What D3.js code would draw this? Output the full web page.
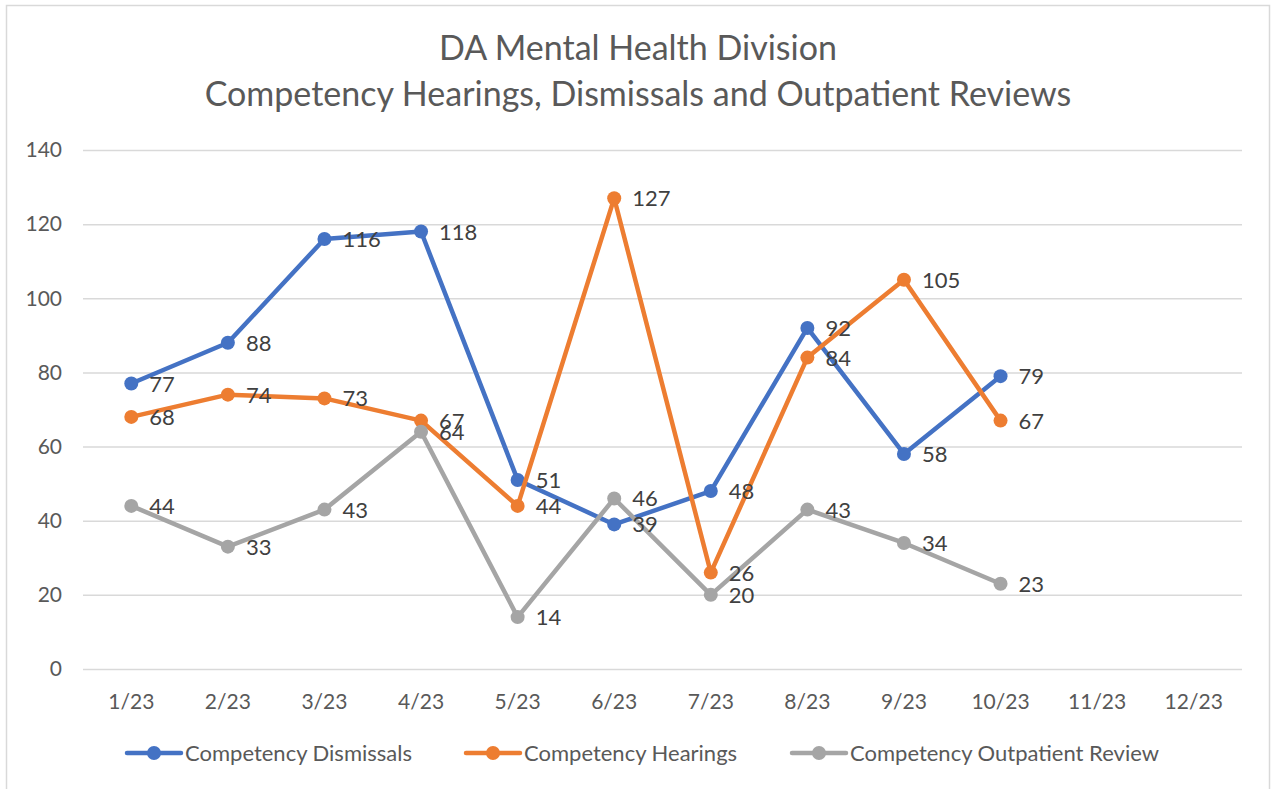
<!DOCTYPE html>
<html><head><meta charset="utf-8">
<script src="https://cdn.jsdelivr.net/npm/d3@7"></script>
<style>body{margin:0;background:#fff}svg{display:block}text{font-family:Lato,"Open Sans",sans-serif}</style>
</head><body><svg id="c" width="1271" height="789"></svg>
<script>
const months = ["1/23","2/23","3/23","4/23","5/23","6/23","7/23","8/23","9/23","10/23","11/23","12/23"];
const dismissals = [77,88,116,118,51,39,48,92,58,79];
const hearings = [68,74,73,67,44,127,26,84,105,67];
const outpatient = [44,33,43,64,14,46,20,43,34,23];
const yTicks = [0,20,40,60,80,100,120,140];
const seriesNames = ["Competency Dismissals","Competency Hearings","Competency Outpatient Review"];
const colors = ["#4472c4","#ed7d31","#a5a5a5"];

const svg = d3.select("#c");
svg.append("rect").attr("x",6.5).attr("y",5.5).attr("width",1263).attr("height",800)
  .attr("fill","#fff").attr("stroke","#d9d9d9").attr("stroke-width",1.5);

const x = d3.scaleBand().domain(months).range([83,1242]);
const y = d3.scaleLinear().domain([0,140]).range([669,150]);

svg.append("text").attr("x",638).attr("y",60).attr("text-anchor","middle")
  .attr("font-size",34).attr("fill","#595959").text("DA Mental Health Division");
svg.append("text").attr("x",638).attr("y",106).attr("text-anchor","middle")
  .attr("font-size",34).attr("fill","#595959").text("Competency Hearings, Dismissals and Outpatient Reviews");

const gy = svg.append("g").attr("transform","translate(83,0)")
  .call(d3.axisLeft(y).tickValues(yTicks).tickSize(-(1242-83)).tickPadding(21));
gy.select(".domain").remove();
gy.selectAll("line").attr("stroke","#d9d9d9").attr("stroke-width",1.5);
gy.selectAll("text").attr("font-size",21).attr("fill","#595959").attr("font-family","Lato,sans-serif");

const gx = svg.append("g").attr("transform","translate(0,669)")
  .call(d3.axisBottom(x).tickSize(0).tickPadding(25));
gx.select(".domain").remove();
gx.selectAll("text").attr("font-size",21).attr("fill","#595959").attr("font-family","Lato,sans-serif");

const data = [dismissals, hearings, outpatient];
const line = d3.line().x((d,i)=>x(months[i])+x.bandwidth()/2).y(d=>y(d));
data.forEach((s,k)=>{
  const g = svg.append("g");
  g.append("path").datum(s).attr("d",line).attr("fill","none")
    .attr("stroke",colors[k]).attr("stroke-width",4.5).attr("stroke-linejoin","round");
  g.selectAll("circle").data(s).join("circle")
    .attr("cx",(d,i)=>x(months[i])+x.bandwidth()/2).attr("cy",d=>y(d)).attr("r",7)
    .attr("fill",colors[k]);
});
data.forEach((s,k)=>{
  svg.append("g").selectAll("text").data(s).join("text")
    .attr("x",(d,i)=>x(months[i])+x.bandwidth()/2+18).attr("y",d=>y(d)+8)
    .attr("font-size",22).attr("fill","#404040").text(d=>d);
});

const legX = [125,464,790];
seriesNames.forEach((n,k)=>{
  const g = svg.append("g").attr("transform",`translate(${legX[k]},753)`);
  g.append("line").attr("x1",2).attr("x2",56).attr("stroke",colors[k]).attr("stroke-width",4.5).attr("stroke-linecap","round");
  g.append("circle").attr("cx",29).attr("r",7).attr("fill",colors[k]);
  g.append("text").attr("x",60).attr("y",8).attr("font-size",22).attr("fill","#595959").text(n);
});
</script></body></html>
